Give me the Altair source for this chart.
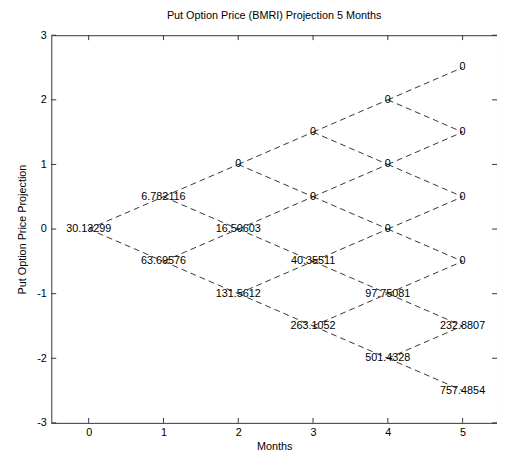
import altair as alt
import pandas as pd

# Node values per month (top node first)
months = [0, 1, 2, 3, 4, 5]
node_values = [
    ["30.13299"],
    ["6.782116", "63.69576"],
    ["0", "16.50603", "131.5612"],
    ["0", "0", "40.35511", "263.1052"],
    ["0", "0", "0", "97.75081", "501.4328"],
    ["0", "0", "0", "0", "232.8807", "757.4854"],
]
x_ticks = [0, 1, 2, 3, 4, 5]
y_ticks = [-3, -2, -1, 0, 1, 2, 3]

FONT = "Liberation Sans"

nodes = []
edges = []
for t, vals in zip(months, node_values):
    for j, v in enumerate(vals):
        y = t / 2 - j
        nodes.append({"t": t, "y": y, "label": v})
        if t < months[-1]:
            edges.append({"t": t, "y": y, "t2": t + 1, "y2": y + 0.5})
            edges.append({"t": t, "y": y, "t2": t + 1, "y2": y - 0.5})

nodes_df = pd.DataFrame(nodes)
edges_df = pd.DataFrame(edges)
xt_df = pd.DataFrame({"t": x_ticks})
yt_df = pd.DataFrame({"y": y_ticks})

xscale = alt.Scale(domain=[-0.5, 5.46], nice=False, zero=False)
yscale = alt.Scale(domain=[-3, 3], nice=False, zero=False)

xaxis = alt.Axis(title="Months", values=x_ticks, tickSize=0, domain=False, grid=False,
                 labelExpr="'' + datum.value",
                 labelFont=FONT, labelFontSize=11, labelColor="black", labelPadding=4,
                 titleFont=FONT, titleFontSize=11, titleFontWeight="normal",
                 titleColor="black", titlePadding=3)
yaxis = alt.Axis(title="Put Option Price Projection", values=y_ticks, tickSize=0,
                 domain=False, grid=False,
                 labelExpr="'' + datum.value",
                 labelFont=FONT, labelFontSize=11, labelColor="black", labelPadding=5,
                 titleFont=FONT, titleFontSize=11, titleFontWeight="normal",
                 titleColor="black", titlePadding=9)

X = alt.X("t:Q", scale=xscale, axis=xaxis)
Y = alt.Y("y:Q", scale=yscale, axis=yaxis)

edge_layer = alt.Chart(edges_df).mark_rule(
    color="black", strokeWidth=0.8, strokeDash=[6, 4]
).encode(x=X, y=Y, x2="t2:Q", y2="y2:Q")

text_layer = alt.Chart(nodes_df).mark_text(
    font=FONT, fontSize=11, color="black", align="center", baseline="middle"
).encode(x=X, y=Y, text="label:N")

tick_color = "#333333"
bottom_ticks = alt.Chart(xt_df).mark_rule(color=tick_color, strokeWidth=1).encode(
    x=X, y=alt.value(394), y2=alt.value(389))
top_ticks = alt.Chart(xt_df).mark_rule(color=tick_color, strokeWidth=1).encode(
    x=X, y=alt.value(0), y2=alt.value(5))
left_ticks = alt.Chart(yt_df).mark_rule(color=tick_color, strokeWidth=1).encode(
    y=Y, x=alt.value(0), x2=alt.value(5))
right_ticks = alt.Chart(yt_df).mark_rule(color=tick_color, strokeWidth=1).encode(
    y=Y, x=alt.value(453), x2=alt.value(448))

chart = alt.layer(
    edge_layer, text_layer, bottom_ticks, top_ticks, left_ticks, right_ticks
).properties(
    width=453,
    height=394,
    background="white",
    title=alt.TitleParams("Put Option Price (BMRI) Projection 5 Months",
                          font=FONT, fontSize=11, fontWeight="normal",
                          color="black", offset=8),
    autosize=alt.AutoSizeParams(type="none"),
    padding={"left": 44, "top": 24, "right": 0, "bottom": 30},
).configure_view(
    stroke="#333333", strokeWidth=1
)

chart.save("out.html", embed_options={"renderer": "svg", "actions": False})
